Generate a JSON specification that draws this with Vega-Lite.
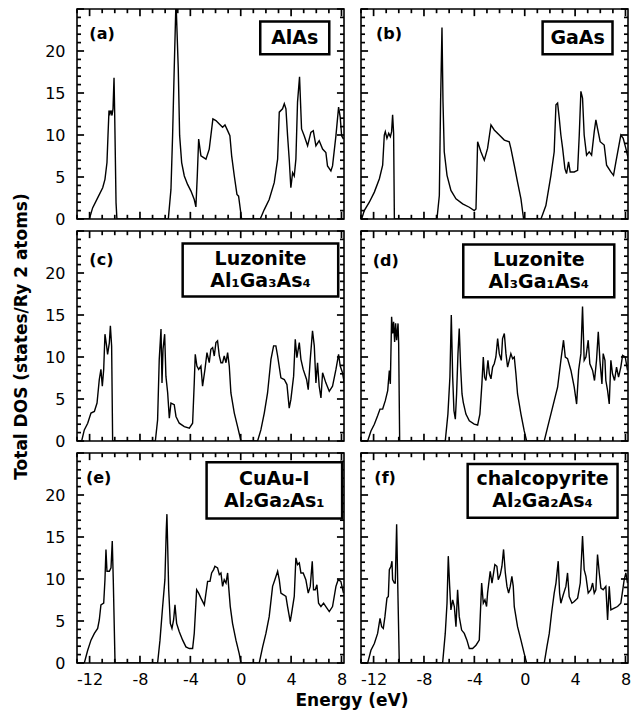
{
"$schema": "https://vega.github.io/schema/vega-lite/v6.json",
"padding": {"left": 11, "top": 7, "right": 9, "bottom": 8},
"datasets": {
"xt": [{"v":-13},{"v":-12},{"v":-11},{"v":-10},{"v":-9},{"v":-8},{"v":-7},{"v":-6},{"v":-5},{"v":-4},{"v":-3},{"v":-2},{"v":-1},{"v":0},{"v":1},{"v":2},{"v":3},{"v":4},{"v":5},{"v":6},{"v":7},{"v":8}],
"yt": [{"v":0},{"v":1},{"v":2},{"v":3},{"v":4},{"v":5},{"v":6},{"v":7},{"v":8},{"v":9},{"v":10},{"v":11},{"v":12},{"v":13},{"v":14},{"v":15},{"v":16},{"v":17},{"v":18},{"v":19},{"v":20},{"v":21},{"v":22},{"v":23},{"v":24},{"v":25}],
"a": [{"E":-13,"dos":0},{"E":-12.02,"dos":0},{"E":-11.76,"dos":1.32},{"E":-11.36,"dos":2.52},{"E":-10.96,"dos":3.72},{"E":-10.78,"dos":4.72},{"E":-10.62,"dos":6.72},{"E":-10.54,"dos":9.92},{"E":-10.46,"dos":12.92},{"E":-10.38,"dos":12.52},{"E":-10.3,"dos":12.92},{"E":-10.22,"dos":12.32},{"E":-10.14,"dos":13.12},{"E":-10.06,"dos":16.8},{"E":-10.01,"dos":12.72},{"E":-9.9,"dos":1.92},{"E":-9.83,"dos":0},
{"E":-5.75,"dos":0},{"E":-5.54,"dos":3.52},{"E":-5.41,"dos":9.92},{"E":-5.28,"dos":17.92},{"E":-5.14,"dos":26},{"E":-4.96,"dos":17.92},{"E":-4.85,"dos":9.92},{"E":-4.69,"dos":6.72},{"E":-4.48,"dos":5.12},{"E":-4.22,"dos":4.12},{"E":-3.95,"dos":3.32},{"E":-3.69,"dos":2.32},{"E":-3.56,"dos":1.44},{"E":-3.45,"dos":5.12},{"E":-3.34,"dos":9.52},{"E":-3.16,"dos":7.52},{"E":-2.76,"dos":7.12},{"E":-2.5,"dos":8.32},{"E":-2.21,"dos":11.92},{"E":-1.97,"dos":11.72},{"E":-1.7,"dos":11.32},{"E":-1.44,"dos":10.92},{"E":-1.25,"dos":11.2},{"E":-1.04,"dos":10.52},{"E":-0.86,"dos":9.92},{"E":-0.72,"dos":7.52},{"E":-0.51,"dos":5.12},{"E":-0.3,"dos":2.92},{"E":-0.17,"dos":2.72},{"E":0.07,"dos":0},
{"E":1.55,"dos":0},{"E":1.87,"dos":1.12},{"E":2.26,"dos":2.32},{"E":2.66,"dos":4.32},{"E":2.93,"dos":7.12},{"E":3.06,"dos":12.72},{"E":3.32,"dos":13.12},{"E":3.46,"dos":13.72},{"E":3.59,"dos":13.12},{"E":3.72,"dos":9.92},{"E":3.85,"dos":7.12},{"E":3.98,"dos":3.72},{"E":4.12,"dos":5.52},{"E":4.25,"dos":5.12},{"E":4.38,"dos":7.12},{"E":4.51,"dos":13.92},{"E":4.67,"dos":16.92},{"E":4.83,"dos":10.72},{"E":5.04,"dos":9.92},{"E":5.31,"dos":8.72},{"E":5.57,"dos":10.32},{"E":5.76,"dos":10.52},{"E":5.97,"dos":8.72},{"E":6.23,"dos":9.32},{"E":6.5,"dos":8.32},{"E":6.76,"dos":7.92},{"E":6.89,"dos":6.32},{"E":7.16,"dos":5.72},{"E":7.29,"dos":6.32},{"E":7.56,"dos":9.92},{"E":7.77,"dos":13.32},{"E":7.9,"dos":12.12},{"E":8.01,"dos":9.92},{"E":8.16,"dos":9.52}],
"b": [{"E":-13,"dos":0},{"E":-12.95,"dos":0},{"E":-12.74,"dos":1.0},{"E":-12.34,"dos":2.0},{"E":-11.94,"dos":3.2},{"E":-11.54,"dos":4.8},{"E":-11.28,"dos":6.4},{"E":-11.15,"dos":10.0},{"E":-11.07,"dos":10.4},{"E":-10.94,"dos":9.6},{"E":-10.8,"dos":10.2},{"E":-10.67,"dos":9.8},{"E":-10.57,"dos":10.4},{"E":-10.49,"dos":12.4},{"E":-10.41,"dos":10.2},{"E":-10.35,"dos":0},
{"E":-6.97,"dos":0},{"E":-6.78,"dos":2.8},{"E":-6.68,"dos":14.0},{"E":-6.57,"dos":22.8},{"E":-6.49,"dos":14.0},{"E":-6.39,"dos":8.0},{"E":-6.17,"dos":5.2},{"E":-5.86,"dos":3.4},{"E":-5.46,"dos":2.4},{"E":-4.93,"dos":1.8},{"E":-4.4,"dos":1.4},{"E":-4.01,"dos":1.0},{"E":-3.87,"dos":1.2},{"E":-3.74,"dos":9.2},{"E":-3.48,"dos":8.0},{"E":-3.21,"dos":7.0},{"E":-2.95,"dos":8.4},{"E":-2.68,"dos":11.2},{"E":-2.42,"dos":10.6},{"E":-2.02,"dos":10.0},{"E":-1.62,"dos":9.4},{"E":-1.23,"dos":9.2},{"E":-1.1,"dos":8.4},{"E":-0.83,"dos":6.4},{"E":-0.57,"dos":4.4},{"E":-0.3,"dos":2.4},{"E":-0.09,"dos":0},
{"E":1.29,"dos":0},{"E":1.68,"dos":1.6},{"E":2.08,"dos":5.2},{"E":2.34,"dos":8.0},{"E":2.48,"dos":13.6},{"E":2.61,"dos":13.8},{"E":2.74,"dos":12.0},{"E":2.87,"dos":10.0},{"E":3.01,"dos":8.4},{"E":3.19,"dos":6.0},{"E":3.32,"dos":5.4},{"E":3.48,"dos":6.8},{"E":3.61,"dos":5.6},{"E":3.93,"dos":5.6},{"E":4.2,"dos":5.8},{"E":4.33,"dos":10.0},{"E":4.46,"dos":15.2},{"E":4.59,"dos":14.4},{"E":4.72,"dos":10.0},{"E":4.91,"dos":7.6},{"E":5.12,"dos":8.0},{"E":5.31,"dos":7.6},{"E":5.52,"dos":10.4},{"E":5.65,"dos":11.8},{"E":5.78,"dos":10.8},{"E":5.99,"dos":9.2},{"E":6.31,"dos":8.8},{"E":6.5,"dos":6.4},{"E":6.84,"dos":5.6},{"E":7.05,"dos":5.2},{"E":7.24,"dos":6.8},{"E":7.63,"dos":10.0},{"E":7.82,"dos":9.6},{"E":8.03,"dos":8.4},{"E":8.22,"dos":7.2}],
"c": [{"E":-13,"dos":0},{"E":-12.63,"dos":0},{"E":-12.42,"dos":1.32},{"E":-12.15,"dos":2.12},{"E":-11.89,"dos":3.32},{"E":-11.62,"dos":3.52},{"E":-11.41,"dos":4.52},{"E":-11.23,"dos":7.32},{"E":-11.1,"dos":8.52},{"E":-10.99,"dos":6.52},{"E":-10.88,"dos":8.52},{"E":-10.78,"dos":12.72},{"E":-10.65,"dos":11.32},{"E":-10.57,"dos":10.32},{"E":-10.43,"dos":11.72},{"E":-10.35,"dos":13.72},{"E":-10.25,"dos":11.32},{"E":-10.17,"dos":0},
{"E":-6.78,"dos":0},{"E":-6.6,"dos":2.52},{"E":-6.47,"dos":9.72},{"E":-6.33,"dos":13.32},{"E":-6.25,"dos":6.92},{"E":-6.17,"dos":10.92},{"E":-6.04,"dos":12.72},{"E":-5.94,"dos":7.72},{"E":-5.8,"dos":5.72},{"E":-5.67,"dos":2.72},{"E":-5.54,"dos":4.52},{"E":-5.28,"dos":4.32},{"E":-5.14,"dos":2.92},{"E":-4.88,"dos":2.12},{"E":-4.48,"dos":1.72},{"E":-4.08,"dos":1.52},{"E":-3.82,"dos":2.12},{"E":-3.69,"dos":6.92},{"E":-3.61,"dos":10.32},{"E":-3.48,"dos":8.92},{"E":-3.34,"dos":8.52},{"E":-3.16,"dos":8.92},{"E":-3.03,"dos":6.52},{"E":-2.84,"dos":8.52},{"E":-2.68,"dos":10.52},{"E":-2.5,"dos":9.32},{"E":-2.37,"dos":10.92},{"E":-2.23,"dos":11.12},{"E":-2.1,"dos":10.12},{"E":-1.97,"dos":11.72},{"E":-1.84,"dos":11.92},{"E":-1.7,"dos":10.12},{"E":-1.57,"dos":9.32},{"E":-1.44,"dos":9.32},{"E":-1.31,"dos":10.12},{"E":-1.17,"dos":9.32},{"E":-1.04,"dos":10.52},{"E":-0.91,"dos":8.92},{"E":-0.78,"dos":5.72},{"E":-0.51,"dos":3.32},{"E":-0.25,"dos":1.72},{"E":0.02,"dos":0},
{"E":1.34,"dos":0},{"E":1.6,"dos":1.32},{"E":1.87,"dos":3.32},{"E":2.13,"dos":5.72},{"E":2.4,"dos":9.72},{"E":2.61,"dos":11.32},{"E":2.79,"dos":11.32},{"E":2.93,"dos":10.12},{"E":3.19,"dos":7.52},{"E":3.46,"dos":7.32},{"E":3.67,"dos":6.72},{"E":3.85,"dos":3.92},{"E":3.98,"dos":4.92},{"E":4.2,"dos":7.72},{"E":4.33,"dos":12.12},{"E":4.46,"dos":9.92},{"E":4.65,"dos":11.72},{"E":4.78,"dos":9.72},{"E":4.96,"dos":8.52},{"E":5.23,"dos":7.32},{"E":5.36,"dos":6.12},{"E":5.52,"dos":9.72},{"E":5.7,"dos":13.12},{"E":5.84,"dos":11.32},{"E":5.97,"dos":6.92},{"E":6.1,"dos":9.32},{"E":6.23,"dos":6.52},{"E":6.37,"dos":5.12},{"E":6.5,"dos":8.12},{"E":6.76,"dos":6.92},{"E":7.03,"dos":5.92},{"E":7.29,"dos":6.52},{"E":7.56,"dos":8.52},{"E":7.77,"dos":10.32},{"E":7.9,"dos":8.92},{"E":8.08,"dos":8.12},{"E":8.22,"dos":6.92}],
"d": [{"E":-13,"dos":0},{"E":-12.47,"dos":0},{"E":-12.21,"dos":1.2},{"E":-11.94,"dos":2.0},{"E":-11.68,"dos":3.0},{"E":-11.49,"dos":3.8},{"E":-11.28,"dos":3.8},{"E":-11.07,"dos":4.8},{"E":-10.88,"dos":6.0},{"E":-10.75,"dos":8.4},{"E":-10.67,"dos":6.8},{"E":-10.57,"dos":14.8},{"E":-10.49,"dos":12.8},{"E":-10.41,"dos":14.2},{"E":-10.33,"dos":11.8},{"E":-10.25,"dos":14.0},{"E":-10.17,"dos":12.0},{"E":-10.06,"dos":14.0},{"E":-10.01,"dos":11.6},{"E":-9.93,"dos":0},
{"E":-6.31,"dos":0},{"E":-6.1,"dos":3.2},{"E":-5.94,"dos":7.6},{"E":-5.83,"dos":15.0},{"E":-5.72,"dos":7.6},{"E":-5.62,"dos":3.6},{"E":-5.51,"dos":2.6},{"E":-5.41,"dos":5.6},{"E":-5.3,"dos":10.4},{"E":-5.2,"dos":13.4},{"E":-5.09,"dos":8.8},{"E":-4.98,"dos":5.6},{"E":-4.88,"dos":4.6},{"E":-4.67,"dos":3.2},{"E":-4.4,"dos":2.4},{"E":-4.01,"dos":2.0},{"E":-3.74,"dos":1.9},{"E":-3.56,"dos":3.2},{"E":-3.4,"dos":6.8},{"E":-3.29,"dos":10.0},{"E":-3.19,"dos":7.6},{"E":-3.08,"dos":7.2},{"E":-2.92,"dos":9.6},{"E":-2.81,"dos":8.0},{"E":-2.68,"dos":7.4},{"E":-2.55,"dos":8.8},{"E":-2.42,"dos":9.2},{"E":-2.29,"dos":10.0},{"E":-2.15,"dos":12.2},{"E":-2.02,"dos":10.4},{"E":-1.86,"dos":9.6},{"E":-1.76,"dos":12.2},{"E":-1.62,"dos":12.8},{"E":-1.49,"dos":10.4},{"E":-1.36,"dos":8.8},{"E":-1.23,"dos":9.6},{"E":-1.1,"dos":10.4},{"E":-0.96,"dos":9.8},{"E":-0.83,"dos":10.0},{"E":-0.7,"dos":8.0},{"E":-0.57,"dos":5.6},{"E":-0.3,"dos":3.2},{"E":-0.04,"dos":1.2},{"E":0.15,"dos":0},
{"E":1.55,"dos":0},{"E":1.81,"dos":1.6},{"E":2.21,"dos":4.0},{"E":2.61,"dos":6.4},{"E":2.87,"dos":9.6},{"E":3.08,"dos":12.0},{"E":3.22,"dos":10.0},{"E":3.4,"dos":9.8},{"E":3.67,"dos":8.4},{"E":3.93,"dos":6.4},{"E":4.12,"dos":4.4},{"E":4.28,"dos":8.4},{"E":4.46,"dos":10.4},{"E":4.59,"dos":16.0},{"E":4.72,"dos":9.6},{"E":4.86,"dos":10.0},{"E":5.04,"dos":12.0},{"E":5.17,"dos":9.2},{"E":5.39,"dos":8.4},{"E":5.54,"dos":7.2},{"E":5.7,"dos":9.6},{"E":5.84,"dos":13.0},{"E":5.97,"dos":9.6},{"E":6.13,"dos":6.8},{"E":6.23,"dos":10.4},{"E":6.37,"dos":9.6},{"E":6.44,"dos":7.2},{"E":6.58,"dos":6.0},{"E":6.71,"dos":4.4},{"E":6.84,"dos":9.6},{"E":6.97,"dos":8.0},{"E":7.13,"dos":7.2},{"E":7.29,"dos":8.8},{"E":7.45,"dos":7.6},{"E":7.63,"dos":8.8},{"E":7.77,"dos":10.2},{"E":7.98,"dos":10.0},{"E":8.16,"dos":8.4}],
"e": [{"E":-13,"dos":0},{"E":-12.42,"dos":0},{"E":-12.15,"dos":1.52},{"E":-11.89,"dos":2.72},{"E":-11.62,"dos":3.52},{"E":-11.36,"dos":4.12},{"E":-11.23,"dos":5.12},{"E":-11.1,"dos":6.92},{"E":-10.88,"dos":7.12},{"E":-10.78,"dos":9.92},{"E":-10.7,"dos":13.52},{"E":-10.62,"dos":10.92},{"E":-10.43,"dos":10.92},{"E":-10.3,"dos":11.32},{"E":-10.2,"dos":14.52},{"E":-10.12,"dos":9.92},{"E":-9.98,"dos":0},
{"E":-6.6,"dos":0},{"E":-6.41,"dos":2.72},{"E":-6.2,"dos":6.72},{"E":-6.02,"dos":9.92},{"E":-5.91,"dos":15.92},{"E":-5.86,"dos":17.72},{"E":-5.8,"dos":13.92},{"E":-5.72,"dos":8.72},{"E":-5.59,"dos":4.72},{"E":-5.46,"dos":4.12},{"E":-5.33,"dos":5.12},{"E":-5.22,"dos":6.92},{"E":-5.09,"dos":4.72},{"E":-4.88,"dos":3.72},{"E":-4.61,"dos":2.72},{"E":-4.35,"dos":1.92},{"E":-4.08,"dos":1.72},{"E":-3.82,"dos":1.72},{"E":-3.69,"dos":3.52},{"E":-3.5,"dos":8.72},{"E":-3.34,"dos":8.32},{"E":-3.16,"dos":7.72},{"E":-2.89,"dos":6.92},{"E":-2.63,"dos":9.72},{"E":-2.44,"dos":9.72},{"E":-2.31,"dos":10.72},{"E":-2.15,"dos":11.12},{"E":-2.05,"dos":11.52},{"E":-1.84,"dos":11.32},{"E":-1.7,"dos":10.52},{"E":-1.57,"dos":10.72},{"E":-1.44,"dos":9.12},{"E":-1.31,"dos":9.92},{"E":-1.17,"dos":9.52},{"E":-1.04,"dos":10.72},{"E":-0.96,"dos":9.12},{"E":-0.83,"dos":6.72},{"E":-0.65,"dos":4.72},{"E":-0.38,"dos":2.72},{"E":-0.12,"dos":1.12},{"E":0.02,"dos":0},
{"E":1.47,"dos":0},{"E":1.74,"dos":1.92},{"E":2.0,"dos":3.52},{"E":2.26,"dos":5.52},{"E":2.53,"dos":9.12},{"E":2.71,"dos":9.92},{"E":2.93,"dos":10.92},{"E":3.06,"dos":9.92},{"E":3.19,"dos":8.32},{"E":3.4,"dos":8.12},{"E":3.59,"dos":7.92},{"E":3.72,"dos":6.72},{"E":3.93,"dos":4.92},{"E":4.04,"dos":5.92},{"E":4.25,"dos":7.92},{"E":4.38,"dos":12.52},{"E":4.51,"dos":11.72},{"E":4.65,"dos":11.92},{"E":4.78,"dos":10.72},{"E":4.96,"dos":10.72},{"E":5.17,"dos":9.92},{"E":5.36,"dos":8.32},{"E":5.52,"dos":9.12},{"E":5.68,"dos":12.12},{"E":5.78,"dos":8.72},{"E":5.92,"dos":8.72},{"E":6.05,"dos":9.32},{"E":6.18,"dos":7.12},{"E":6.37,"dos":6.72},{"E":6.58,"dos":7.12},{"E":6.76,"dos":6.72},{"E":7.03,"dos":6.12},{"E":7.29,"dos":6.72},{"E":7.56,"dos":9.12},{"E":7.74,"dos":9.92},{"E":7.95,"dos":9.72},{"E":8.16,"dos":8.32}],
"f": [{"E":-13,"dos":0},{"E":-12.47,"dos":0},{"E":-12.21,"dos":1.52},{"E":-11.94,"dos":2.32},{"E":-11.68,"dos":3.52},{"E":-11.49,"dos":5.32},{"E":-11.36,"dos":4.32},{"E":-11.23,"dos":4.12},{"E":-11.1,"dos":5.52},{"E":-10.94,"dos":7.72},{"E":-10.83,"dos":7.92},{"E":-10.75,"dos":11.12},{"E":-10.62,"dos":11.52},{"E":-10.54,"dos":12.12},{"E":-10.49,"dos":9.92},{"E":-10.35,"dos":9.52},{"E":-10.28,"dos":9.52},{"E":-10.17,"dos":16.52},{"E":-10.09,"dos":9.92},{"E":-9.96,"dos":0},
{"E":-6.52,"dos":0},{"E":-6.31,"dos":3.52},{"E":-6.17,"dos":7.12},{"E":-6.07,"dos":12.72},{"E":-5.96,"dos":9.12},{"E":-5.86,"dos":6.32},{"E":-5.72,"dos":7.52},{"E":-5.59,"dos":6.72},{"E":-5.46,"dos":4.32},{"E":-5.33,"dos":8.72},{"E":-5.2,"dos":5.52},{"E":-5.01,"dos":3.92},{"E":-4.8,"dos":3.52},{"E":-4.59,"dos":2.72},{"E":-4.4,"dos":1.72},{"E":-4.14,"dos":1.72},{"E":-3.87,"dos":2.12},{"E":-3.61,"dos":2.72},{"E":-3.42,"dos":9.52},{"E":-3.29,"dos":7.12},{"E":-3.16,"dos":7.52},{"E":-3.03,"dos":6.72},{"E":-2.95,"dos":8.32},{"E":-2.74,"dos":10.92},{"E":-2.6,"dos":9.52},{"E":-2.47,"dos":10.72},{"E":-2.37,"dos":11.72},{"E":-2.21,"dos":11.52},{"E":-2.1,"dos":9.92},{"E":-1.94,"dos":10.52},{"E":-1.81,"dos":11.52},{"E":-1.68,"dos":13.52},{"E":-1.54,"dos":10.72},{"E":-1.41,"dos":9.12},{"E":-1.28,"dos":8.32},{"E":-1.15,"dos":9.12},{"E":-1.02,"dos":10.32},{"E":-0.91,"dos":9.12},{"E":-0.83,"dos":6.72},{"E":-0.57,"dos":4.32},{"E":-0.3,"dos":2.72},{"E":-0.04,"dos":1.12},{"E":0.15,"dos":0},
{"E":1.55,"dos":0},{"E":1.76,"dos":1.92},{"E":1.95,"dos":3.52},{"E":2.13,"dos":5.92},{"E":2.34,"dos":8.32},{"E":2.48,"dos":9.52},{"E":2.66,"dos":12.12},{"E":2.77,"dos":8.32},{"E":2.87,"dos":7.12},{"E":3.06,"dos":8.12},{"E":3.27,"dos":9.12},{"E":3.4,"dos":10.72},{"E":3.53,"dos":7.92},{"E":3.75,"dos":7.12},{"E":3.93,"dos":7.32},{"E":4.2,"dos":7.72},{"E":4.41,"dos":9.52},{"E":4.59,"dos":15.12},{"E":4.72,"dos":11.12},{"E":4.86,"dos":10.32},{"E":5.04,"dos":8.32},{"E":5.25,"dos":8.72},{"E":5.39,"dos":9.52},{"E":5.52,"dos":8.32},{"E":5.65,"dos":8.72},{"E":5.78,"dos":12.92},{"E":5.92,"dos":10.72},{"E":6.05,"dos":8.92},{"E":6.23,"dos":8.72},{"E":6.44,"dos":9.12},{"E":6.58,"dos":5.12},{"E":6.71,"dos":9.12},{"E":6.84,"dos":6.32},{"E":7.11,"dos":6.52},{"E":7.37,"dos":6.72},{"E":7.63,"dos":7.12},{"E":7.9,"dos":9.92},{"E":8.03,"dos":10.72},{"E":8.16,"dos":9.52}]
},
"title": {"text": "Energy (eV)", "orient": "bottom", "anchor": "middle", "frame": "group", "dx": 275, "fontSize": 17, "fontWeight": "bold", "font": "DejaVu Sans", "color": "black", "offset": 5},
"columns": 2,
"spacing": {"row": 12, "column": 17},
"bounds": "flush",
"concat": [
{"width": 267, "height": 210,
 "layer": [
  {"data": {"name": "a"}, "mark": {"type": "line", "clip": true, "color": "black", "strokeWidth": 1.4},
   "encoding": {"x": {"field": "E", "type": "quantitative", "scale": {"domain": [-13, 8.2], "nice": false, "zero": false}, "axis": null},
                "y": {"field": "dos", "type": "quantitative", "scale": {"domain": [0, 25], "nice": false}, "axis": {"orient": "left", "values": [0,5,10,15,20], "ticks": false, "labelPadding": 12, "title": null}}}},
  {"data": {"name": "xt"}, "transform": [{"filter": "datum.v % 4 == 0"}], "mark": {"type": "rule", "color": "black", "strokeWidth": 1.7}, "encoding": {"x": {"field": "v", "type": "quantitative"}, "y": {"datum": 0}, "y2": {"datum": 0.85}}},
  {"data": {"name": "xt"}, "transform": [{"filter": "datum.v % 4 != 0"}], "mark": {"type": "rule", "color": "black", "strokeWidth": 1.7}, "encoding": {"x": {"field": "v", "type": "quantitative"}, "y": {"datum": 0}, "y2": {"datum": 0.5}}},
  {"data": {"name": "xt"}, "transform": [{"filter": "datum.v % 4 == 0"}], "mark": {"type": "rule", "color": "black", "strokeWidth": 1.7}, "encoding": {"x": {"field": "v", "type": "quantitative"}, "y": {"datum": 25}, "y2": {"datum": 24.15}}},
  {"data": {"name": "xt"}, "transform": [{"filter": "datum.v % 4 != 0"}], "mark": {"type": "rule", "color": "black", "strokeWidth": 1.7}, "encoding": {"x": {"field": "v", "type": "quantitative"}, "y": {"datum": 25}, "y2": {"datum": 24.5}}},
  {"data": {"name": "yt"}, "transform": [{"filter": "datum.v % 5 == 0"}], "mark": {"type": "rule", "color": "black", "strokeWidth": 1.7}, "encoding": {"y": {"field": "v", "type": "quantitative"}, "x": {"datum": -13}, "x2": {"datum": -12.44}}},
  {"data": {"name": "yt"}, "transform": [{"filter": "datum.v % 5 != 0"}], "mark": {"type": "rule", "color": "black", "strokeWidth": 1.7}, "encoding": {"y": {"field": "v", "type": "quantitative"}, "x": {"datum": -13}, "x2": {"datum": -12.68}}},
  {"data": {"name": "yt"}, "transform": [{"filter": "datum.v % 5 == 0"}], "mark": {"type": "rule", "color": "black", "strokeWidth": 1.7}, "encoding": {"y": {"field": "v", "type": "quantitative"}, "x": {"datum": 8.2}, "x2": {"datum": 7.64}}},
  {"data": {"name": "yt"}, "transform": [{"filter": "datum.v % 5 != 0"}], "mark": {"type": "rule", "color": "black", "strokeWidth": 1.7}, "encoding": {"y": {"field": "v", "type": "quantitative"}, "x": {"datum": 8.2}, "x2": {"datum": 7.88}}},
  {"data": {"values": [{}]}, "mark": {"type": "rect", "fill": "white", "stroke": "black", "strokeWidth": 2.5}, "encoding": {"x": {"datum": 1.55}, "x2": {"datum": 7.03}, "y": {"datum": 23.5}, "y2": {"datum": 19.6}}},
  {"data": {"values": [{}]}, "mark": {"type": "text", "text": "(a)", "align": "left", "baseline": "middle", "fontSize": 16, "fontWeight": "bold", "color": "black"}, "encoding": {"x": {"datum": -12.02}, "y": {"datum": 22.0}}},
  {"data": {"values": [{}]}, "mark": {"type": "text", "text": "AlAs", "align": "center", "baseline": "middle", "fontSize": 19, "fontWeight": "bold", "color": "black"}, "encoding": {"x": {"datum": 4.29}, "y": {"datum": 21.55}}}
 ]},
{"width": 267, "height": 210,
 "layer": [
  {"data": {"name": "b"}, "mark": {"type": "line", "clip": true, "color": "black", "strokeWidth": 1.4},
   "encoding": {"x": {"field": "E", "type": "quantitative", "scale": {"domain": [-13, 8.2], "nice": false, "zero": false}, "axis": null},
                "y": {"field": "dos", "type": "quantitative", "scale": {"domain": [0, 25], "nice": false}, "axis": null}}},
  {"data": {"name": "xt"}, "transform": [{"filter": "datum.v % 4 == 0"}], "mark": {"type": "rule", "color": "black", "strokeWidth": 1.7}, "encoding": {"x": {"field": "v", "type": "quantitative"}, "y": {"datum": 0}, "y2": {"datum": 0.85}}},
  {"data": {"name": "xt"}, "transform": [{"filter": "datum.v % 4 != 0"}], "mark": {"type": "rule", "color": "black", "strokeWidth": 1.7}, "encoding": {"x": {"field": "v", "type": "quantitative"}, "y": {"datum": 0}, "y2": {"datum": 0.5}}},
  {"data": {"name": "xt"}, "transform": [{"filter": "datum.v % 4 == 0"}], "mark": {"type": "rule", "color": "black", "strokeWidth": 1.7}, "encoding": {"x": {"field": "v", "type": "quantitative"}, "y": {"datum": 25}, "y2": {"datum": 24.15}}},
  {"data": {"name": "xt"}, "transform": [{"filter": "datum.v % 4 != 0"}], "mark": {"type": "rule", "color": "black", "strokeWidth": 1.7}, "encoding": {"x": {"field": "v", "type": "quantitative"}, "y": {"datum": 25}, "y2": {"datum": 24.5}}},
  {"data": {"name": "yt"}, "transform": [{"filter": "datum.v % 5 == 0"}], "mark": {"type": "rule", "color": "black", "strokeWidth": 1.7}, "encoding": {"y": {"field": "v", "type": "quantitative"}, "x": {"datum": -13}, "x2": {"datum": -12.44}}},
  {"data": {"name": "yt"}, "transform": [{"filter": "datum.v % 5 != 0"}], "mark": {"type": "rule", "color": "black", "strokeWidth": 1.7}, "encoding": {"y": {"field": "v", "type": "quantitative"}, "x": {"datum": -13}, "x2": {"datum": -12.68}}},
  {"data": {"name": "yt"}, "transform": [{"filter": "datum.v % 5 == 0"}], "mark": {"type": "rule", "color": "black", "strokeWidth": 1.7}, "encoding": {"y": {"field": "v", "type": "quantitative"}, "x": {"datum": 8.2}, "x2": {"datum": 7.64}}},
  {"data": {"name": "yt"}, "transform": [{"filter": "datum.v % 5 != 0"}], "mark": {"type": "rule", "color": "black", "strokeWidth": 1.7}, "encoding": {"y": {"field": "v", "type": "quantitative"}, "x": {"datum": 8.2}, "x2": {"datum": 7.88}}},
  {"data": {"values": [{}]}, "mark": {"type": "rect", "fill": "white", "stroke": "black", "strokeWidth": 2.5}, "encoding": {"x": {"datum": 1.42}, "x2": {"datum": 6.97}, "y": {"datum": 23.5}, "y2": {"datum": 19.6}}},
  {"data": {"values": [{}]}, "mark": {"type": "text", "text": "(b)", "align": "left", "baseline": "middle", "fontSize": 16, "fontWeight": "bold", "color": "black"}, "encoding": {"x": {"datum": -11.81}, "y": {"datum": 22.0}}},
  {"data": {"values": [{}]}, "mark": {"type": "text", "text": "GaAs", "align": "center", "baseline": "middle", "fontSize": 19, "fontWeight": "bold", "color": "black"}, "encoding": {"x": {"datum": 4.2}, "y": {"datum": 21.55}}}
 ]},
{"width": 267, "height": 210,
 "layer": [
  {"data": {"name": "c"}, "mark": {"type": "line", "clip": true, "color": "black", "strokeWidth": 1.4},
   "encoding": {"x": {"field": "E", "type": "quantitative", "scale": {"domain": [-13, 8.2], "nice": false, "zero": false}, "axis": null},
                "y": {"field": "dos", "type": "quantitative", "scale": {"domain": [0, 25], "nice": false}, "axis": {"orient": "left", "values": [0,5,10,15,20], "ticks": false, "labelPadding": 12, "title": "Total DOS (states/Ry 2 atoms)", "titlePadding": 14}}}},
  {"data": {"name": "xt"}, "transform": [{"filter": "datum.v % 4 == 0"}], "mark": {"type": "rule", "color": "black", "strokeWidth": 1.7}, "encoding": {"x": {"field": "v", "type": "quantitative"}, "y": {"datum": 0}, "y2": {"datum": 0.85}}},
  {"data": {"name": "xt"}, "transform": [{"filter": "datum.v % 4 != 0"}], "mark": {"type": "rule", "color": "black", "strokeWidth": 1.7}, "encoding": {"x": {"field": "v", "type": "quantitative"}, "y": {"datum": 0}, "y2": {"datum": 0.5}}},
  {"data": {"name": "xt"}, "transform": [{"filter": "datum.v % 4 == 0"}], "mark": {"type": "rule", "color": "black", "strokeWidth": 1.7}, "encoding": {"x": {"field": "v", "type": "quantitative"}, "y": {"datum": 25}, "y2": {"datum": 24.15}}},
  {"data": {"name": "xt"}, "transform": [{"filter": "datum.v % 4 != 0"}], "mark": {"type": "rule", "color": "black", "strokeWidth": 1.7}, "encoding": {"x": {"field": "v", "type": "quantitative"}, "y": {"datum": 25}, "y2": {"datum": 24.5}}},
  {"data": {"name": "yt"}, "transform": [{"filter": "datum.v % 5 == 0"}], "mark": {"type": "rule", "color": "black", "strokeWidth": 1.7}, "encoding": {"y": {"field": "v", "type": "quantitative"}, "x": {"datum": -13}, "x2": {"datum": -12.44}}},
  {"data": {"name": "yt"}, "transform": [{"filter": "datum.v % 5 != 0"}], "mark": {"type": "rule", "color": "black", "strokeWidth": 1.7}, "encoding": {"y": {"field": "v", "type": "quantitative"}, "x": {"datum": -13}, "x2": {"datum": -12.68}}},
  {"data": {"name": "yt"}, "transform": [{"filter": "datum.v % 5 == 0"}], "mark": {"type": "rule", "color": "black", "strokeWidth": 1.7}, "encoding": {"y": {"field": "v", "type": "quantitative"}, "x": {"datum": 8.2}, "x2": {"datum": 7.64}}},
  {"data": {"name": "yt"}, "transform": [{"filter": "datum.v % 5 != 0"}], "mark": {"type": "rule", "color": "black", "strokeWidth": 1.7}, "encoding": {"y": {"field": "v", "type": "quantitative"}, "x": {"datum": 8.2}, "x2": {"datum": 7.88}}},
  {"data": {"values": [{}]}, "mark": {"type": "rect", "fill": "white", "stroke": "black", "strokeWidth": 2.5}, "encoding": {"x": {"datum": -4.61}, "x2": {"datum": 7.74}, "y": {"datum": 23.5}, "y2": {"datum": 17.2}}},
  {"data": {"values": [{}]}, "mark": {"type": "text", "text": "(c)", "align": "left", "baseline": "middle", "fontSize": 16, "fontWeight": "bold", "color": "black"}, "encoding": {"x": {"datum": -12.02}, "y": {"datum": 21.5}}},
  {"data": {"values": [{}]}, "mark": {"type": "text", "text": ["Luzonite", "Al₁Ga₃As₄"], "align": "center", "baseline": "middle", "fontSize": 19, "lineHeight": 22, "fontWeight": "bold", "color": "black"}, "encoding": {"x": {"datum": 1.57}, "y": {"datum": 21.7}}}
 ]},
{"width": 267, "height": 210,
 "layer": [
  {"data": {"name": "d"}, "mark": {"type": "line", "clip": true, "color": "black", "strokeWidth": 1.4},
   "encoding": {"x": {"field": "E", "type": "quantitative", "scale": {"domain": [-13, 8.2], "nice": false, "zero": false}, "axis": null},
                "y": {"field": "dos", "type": "quantitative", "scale": {"domain": [0, 25], "nice": false}, "axis": null}}},
  {"data": {"name": "xt"}, "transform": [{"filter": "datum.v % 4 == 0"}], "mark": {"type": "rule", "color": "black", "strokeWidth": 1.7}, "encoding": {"x": {"field": "v", "type": "quantitative"}, "y": {"datum": 0}, "y2": {"datum": 0.85}}},
  {"data": {"name": "xt"}, "transform": [{"filter": "datum.v % 4 != 0"}], "mark": {"type": "rule", "color": "black", "strokeWidth": 1.7}, "encoding": {"x": {"field": "v", "type": "quantitative"}, "y": {"datum": 0}, "y2": {"datum": 0.5}}},
  {"data": {"name": "xt"}, "transform": [{"filter": "datum.v % 4 == 0"}], "mark": {"type": "rule", "color": "black", "strokeWidth": 1.7}, "encoding": {"x": {"field": "v", "type": "quantitative"}, "y": {"datum": 25}, "y2": {"datum": 24.15}}},
  {"data": {"name": "xt"}, "transform": [{"filter": "datum.v % 4 != 0"}], "mark": {"type": "rule", "color": "black", "strokeWidth": 1.7}, "encoding": {"x": {"field": "v", "type": "quantitative"}, "y": {"datum": 25}, "y2": {"datum": 24.5}}},
  {"data": {"name": "yt"}, "transform": [{"filter": "datum.v % 5 == 0"}], "mark": {"type": "rule", "color": "black", "strokeWidth": 1.7}, "encoding": {"y": {"field": "v", "type": "quantitative"}, "x": {"datum": -13}, "x2": {"datum": -12.44}}},
  {"data": {"name": "yt"}, "transform": [{"filter": "datum.v % 5 != 0"}], "mark": {"type": "rule", "color": "black", "strokeWidth": 1.7}, "encoding": {"y": {"field": "v", "type": "quantitative"}, "x": {"datum": -13}, "x2": {"datum": -12.68}}},
  {"data": {"name": "yt"}, "transform": [{"filter": "datum.v % 5 == 0"}], "mark": {"type": "rule", "color": "black", "strokeWidth": 1.7}, "encoding": {"y": {"field": "v", "type": "quantitative"}, "x": {"datum": 8.2}, "x2": {"datum": 7.64}}},
  {"data": {"name": "yt"}, "transform": [{"filter": "datum.v % 5 != 0"}], "mark": {"type": "rule", "color": "black", "strokeWidth": 1.7}, "encoding": {"y": {"field": "v", "type": "quantitative"}, "x": {"datum": 8.2}, "x2": {"datum": 7.88}}},
  {"data": {"values": [{}]}, "mark": {"type": "rect", "fill": "white", "stroke": "black", "strokeWidth": 2.5}, "encoding": {"x": {"datum": -4.88}, "x2": {"datum": 7.11}, "y": {"datum": 23.4}, "y2": {"datum": 17.1}}},
  {"data": {"values": [{}]}, "mark": {"type": "text", "text": "(d)", "align": "left", "baseline": "middle", "fontSize": 16, "fontWeight": "bold", "color": "black"}, "encoding": {"x": {"datum": -12.07}, "y": {"datum": 21.4}}},
  {"data": {"values": [{}]}, "mark": {"type": "text", "text": ["Luzonite", "Al₃Ga₁As₄"], "align": "center", "baseline": "middle", "fontSize": 19, "lineHeight": 22, "fontWeight": "bold", "color": "black"}, "encoding": {"x": {"datum": 1.12}, "y": {"datum": 21.6}}}
 ]},
{"width": 267, "height": 210,
 "layer": [
  {"data": {"name": "e"}, "mark": {"type": "line", "clip": true, "color": "black", "strokeWidth": 1.4},
   "encoding": {"x": {"field": "E", "type": "quantitative", "scale": {"domain": [-13, 8.2], "nice": false, "zero": false}, "axis": {"orient": "bottom", "values": [-12,-8,-4,0,4,8], "ticks": false, "labelPadding": 8, "labelFlush": false, "labelExpr": "toString(datum.value)", "title": null}},
                "y": {"field": "dos", "type": "quantitative", "scale": {"domain": [0, 25], "nice": false}, "axis": {"orient": "left", "values": [0,5,10,15,20], "ticks": false, "labelPadding": 12, "title": null}}}},
  {"data": {"name": "xt"}, "transform": [{"filter": "datum.v % 4 == 0"}], "mark": {"type": "rule", "color": "black", "strokeWidth": 1.7}, "encoding": {"x": {"field": "v", "type": "quantitative"}, "y": {"datum": 0}, "y2": {"datum": 0.85}}},
  {"data": {"name": "xt"}, "transform": [{"filter": "datum.v % 4 != 0"}], "mark": {"type": "rule", "color": "black", "strokeWidth": 1.7}, "encoding": {"x": {"field": "v", "type": "quantitative"}, "y": {"datum": 0}, "y2": {"datum": 0.5}}},
  {"data": {"name": "xt"}, "transform": [{"filter": "datum.v % 4 == 0"}], "mark": {"type": "rule", "color": "black", "strokeWidth": 1.7}, "encoding": {"x": {"field": "v", "type": "quantitative"}, "y": {"datum": 25}, "y2": {"datum": 24.15}}},
  {"data": {"name": "xt"}, "transform": [{"filter": "datum.v % 4 != 0"}], "mark": {"type": "rule", "color": "black", "strokeWidth": 1.7}, "encoding": {"x": {"field": "v", "type": "quantitative"}, "y": {"datum": 25}, "y2": {"datum": 24.5}}},
  {"data": {"name": "yt"}, "transform": [{"filter": "datum.v % 5 == 0"}], "mark": {"type": "rule", "color": "black", "strokeWidth": 1.7}, "encoding": {"y": {"field": "v", "type": "quantitative"}, "x": {"datum": -13}, "x2": {"datum": -12.44}}},
  {"data": {"name": "yt"}, "transform": [{"filter": "datum.v % 5 != 0"}], "mark": {"type": "rule", "color": "black", "strokeWidth": 1.7}, "encoding": {"y": {"field": "v", "type": "quantitative"}, "x": {"datum": -13}, "x2": {"datum": -12.68}}},
  {"data": {"name": "yt"}, "transform": [{"filter": "datum.v % 5 == 0"}], "mark": {"type": "rule", "color": "black", "strokeWidth": 1.7}, "encoding": {"y": {"field": "v", "type": "quantitative"}, "x": {"datum": 8.2}, "x2": {"datum": 7.64}}},
  {"data": {"name": "yt"}, "transform": [{"filter": "datum.v % 5 != 0"}], "mark": {"type": "rule", "color": "black", "strokeWidth": 1.7}, "encoding": {"y": {"field": "v", "type": "quantitative"}, "x": {"datum": 8.2}, "x2": {"datum": 7.88}}},
  {"data": {"values": [{}]}, "mark": {"type": "rect", "fill": "white", "stroke": "black", "strokeWidth": 2.5}, "encoding": {"x": {"datum": -2.71}, "x2": {"datum": 8.05}, "y": {"datum": 23.9}, "y2": {"datum": 17.2}}},
  {"data": {"values": [{}]}, "mark": {"type": "text", "text": "(e)", "align": "left", "baseline": "middle", "fontSize": 16, "fontWeight": "bold", "color": "black"}, "encoding": {"x": {"datum": -12.29}, "y": {"datum": 22.0}}},
  {"data": {"values": [{}]}, "mark": {"type": "text", "text": ["CuAu-I", "Al₂Ga₂As₁"], "align": "center", "baseline": "middle", "fontSize": 19, "lineHeight": 22, "fontWeight": "bold", "color": "black"}, "encoding": {"x": {"datum": 2.67}, "y": {"datum": 21.9}}}
 ]},
{"width": 267, "height": 210,
 "layer": [
  {"data": {"name": "f"}, "mark": {"type": "line", "clip": true, "color": "black", "strokeWidth": 1.4},
   "encoding": {"x": {"field": "E", "type": "quantitative", "scale": {"domain": [-13, 8.2], "nice": false, "zero": false}, "axis": {"orient": "bottom", "values": [-12,-8,-4,0,4,8], "ticks": false, "labelPadding": 8, "labelFlush": false, "labelExpr": "toString(datum.value)", "title": null}},
                "y": {"field": "dos", "type": "quantitative", "scale": {"domain": [0, 25], "nice": false}, "axis": null}}},
  {"data": {"name": "xt"}, "transform": [{"filter": "datum.v % 4 == 0"}], "mark": {"type": "rule", "color": "black", "strokeWidth": 1.7}, "encoding": {"x": {"field": "v", "type": "quantitative"}, "y": {"datum": 0}, "y2": {"datum": 0.85}}},
  {"data": {"name": "xt"}, "transform": [{"filter": "datum.v % 4 != 0"}], "mark": {"type": "rule", "color": "black", "strokeWidth": 1.7}, "encoding": {"x": {"field": "v", "type": "quantitative"}, "y": {"datum": 0}, "y2": {"datum": 0.5}}},
  {"data": {"name": "xt"}, "transform": [{"filter": "datum.v % 4 == 0"}], "mark": {"type": "rule", "color": "black", "strokeWidth": 1.7}, "encoding": {"x": {"field": "v", "type": "quantitative"}, "y": {"datum": 25}, "y2": {"datum": 24.15}}},
  {"data": {"name": "xt"}, "transform": [{"filter": "datum.v % 4 != 0"}], "mark": {"type": "rule", "color": "black", "strokeWidth": 1.7}, "encoding": {"x": {"field": "v", "type": "quantitative"}, "y": {"datum": 25}, "y2": {"datum": 24.5}}},
  {"data": {"name": "yt"}, "transform": [{"filter": "datum.v % 5 == 0"}], "mark": {"type": "rule", "color": "black", "strokeWidth": 1.7}, "encoding": {"y": {"field": "v", "type": "quantitative"}, "x": {"datum": -13}, "x2": {"datum": -12.44}}},
  {"data": {"name": "yt"}, "transform": [{"filter": "datum.v % 5 != 0"}], "mark": {"type": "rule", "color": "black", "strokeWidth": 1.7}, "encoding": {"y": {"field": "v", "type": "quantitative"}, "x": {"datum": -13}, "x2": {"datum": -12.68}}},
  {"data": {"name": "yt"}, "transform": [{"filter": "datum.v % 5 == 0"}], "mark": {"type": "rule", "color": "black", "strokeWidth": 1.7}, "encoding": {"y": {"field": "v", "type": "quantitative"}, "x": {"datum": 8.2}, "x2": {"datum": 7.64}}},
  {"data": {"name": "yt"}, "transform": [{"filter": "datum.v % 5 != 0"}], "mark": {"type": "rule", "color": "black", "strokeWidth": 1.7}, "encoding": {"y": {"field": "v", "type": "quantitative"}, "x": {"datum": 8.2}, "x2": {"datum": 7.88}}},
  {"data": {"values": [{}]}, "mark": {"type": "rect", "fill": "white", "stroke": "black", "strokeWidth": 2.5}, "encoding": {"x": {"datum": -4.53}, "x2": {"datum": 7.37}, "y": {"datum": 23.7}, "y2": {"datum": 17.3}}},
  {"data": {"values": [{}]}, "mark": {"type": "text", "text": "(f)", "align": "left", "baseline": "middle", "fontSize": 16, "fontWeight": "bold", "color": "black"}, "encoding": {"x": {"datum": -11.94}, "y": {"datum": 22.0}}},
  {"data": {"values": [{}]}, "mark": {"type": "text", "text": ["chalcopyrite", "Al₂Ga₂As₄"], "align": "center", "baseline": "middle", "fontSize": 19, "lineHeight": 22, "fontWeight": "bold", "color": "black"}, "encoding": {"x": {"datum": 1.42}, "y": {"datum": 21.9}}}
 ]}
],
"config": {
  "font": "DejaVu Sans",
  "view": {"stroke": "black", "strokeWidth": 1.6},
  "axis": {"grid": false, "domain": false, "labelFont": "DejaVu Sans", "labelFontSize": 16, "labelColor": "black", "titleFont": "DejaVu Sans", "titleFontSize": 17, "titleFontWeight": "bold", "titleColor": "black"}
}
}
